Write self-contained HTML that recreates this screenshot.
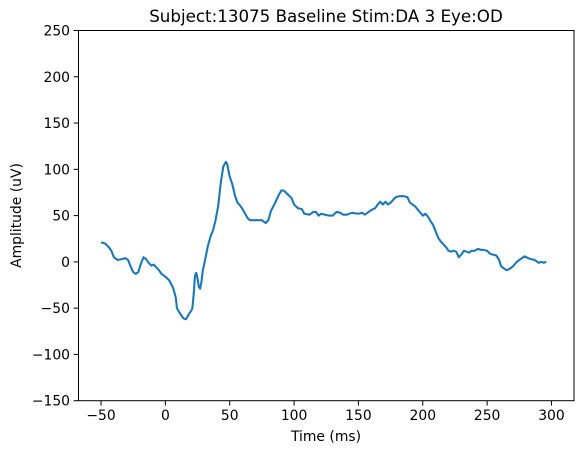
<!DOCTYPE html>
<html><head><meta charset="utf-8"><style>
html,body{margin:0;padding:0;background:#fff;}
svg{display:block;font-family:"DejaVu Sans","Liberation Sans",sans-serif;}
</style></head><body>
<svg id="c" width="583" height="453" viewBox="0 0 583 453" xmlns="http://www.w3.org/2000/svg">
<text x="326" y="22" font-size="16.7" text-anchor="middle">Subject:13075 Baseline Stim:DA 3 Eye:OD</text>
<text x="326" y="441" font-size="13.9" text-anchor="middle">Time (ms)</text>
<text transform="translate(21,215.5) rotate(-90)" font-size="13.9" text-anchor="middle">Amplitude (uV)</text>
<g id="ticks"></g>
<path id="line" fill="none" stroke="#1f77b4" stroke-width="2.1" stroke-linejoin="round"/>
<rect x="78.5" y="30.5" width="495.5" height="370.2" fill="none" stroke="#000" stroke-width="1"/>
</svg>
<script>
const times=[-50,-47,-44,-42,-40,-37,-34,-31,-29,-27,-25,-23,-21,-19,-17,-15,-13,-11,-9,-7,-5,-3,0,3,6,8,9,11,14,16,18,20,21,22,23,24,25,26,27,28,29,31,33,35,37,39,41,43,45,47,48,50,52,54,56,58,60,62,64,66,70,75,78,80,82,85,88,90,92,95,98,100,103,106,108,112,115,117,119,121,124,127,130,133,136,138,141,145,150,153,155,158,160,163,165,167,169,171,173,175,177,179,182,185,188,190,192,194,197,200,202,204,206,208,210,212,214,216,218,220,222,224,226,228,230,232,234,236,238,240,243,245,247,250,252,254,257,259,261,263,265,267,270,273,276,279,282,284,287,290,292,294,296,300];
const amps=[21,20,16,12,5,2,3,4,2,-5,-11,-13,-11,-2,5,3,-1,-4,-3,-6,-9,-13,-16,-20,-28,-38,-50,-55,-61,-62,-57,-53,-50,-35,-15,-12,-18,-27,-29,-22,-10,3,17,27,34,45,60,85,103,108,106,92,84,72,64,61,57,52,47,45,45,45,42,45,55,63,72,77,77,73,69,62,58,57,52,51,54,54,50,52,51,50,50,54,53,51,51,53,52,53,51,54,56,58,62,65,62,65,62,64,67,70,71,71,70,64,62,60,55,50,52,49,44,40,33,26,22,19,16,12,11,12,11,5,8,12,11,10,12,12,14,13,13,12,9,8,7,3,-5,-7,-9,-8,-5,0,3,6,4,3,2,-1,0,-1,0];
const xTicks=[-50,0,50,100,150,200,250,300];
const yTicks=[-150,-100,-50,0,50,100,150,200,250];
const L=78.5,R=574,T=30.5,B=400.7;
const xMin=-67.5,xMax=317.5,yMin=-150,yMax=250;
const sx=v=>L+(v-xMin)/(xMax-xMin)*(R-L);
const sy=v=>B-(v-yMin)/(yMax-yMin)*(B-T);
const NS='http://www.w3.org/2000/svg';
const g=document.getElementById('ticks');
function mk(tag,attrs){const e=document.createElementNS(NS,tag);for(const k in attrs)e.setAttribute(k,attrs[k]);return e;}
xTicks.forEach(t=>{
  const l=mk('line',{x1:sx(t),x2:sx(t),y1:B,y2:B+4.9,stroke:'#000','stroke-width':1});
  
  
  g.appendChild(l);
  const tx=mk('text',{x:sx(t),y:B+19.5,'font-size':13.9,'text-anchor':'middle'});
  
  
  tx.textContent=String(t).replace('-','\u2212');
  g.appendChild(tx);
});
yTicks.forEach(t=>{
  const l=mk('line',{x1:L-4.9,x2:L,y1:sy(t),y2:sy(t),stroke:'#000','stroke-width':1});
  
  
  g.appendChild(l);
  const tx=mk('text',{x:L-8.5,y:sy(t)+5,'font-size':13.9,'text-anchor':'end'});
  
  
  tx.textContent=String(t).replace('-','\u2212');
  g.appendChild(tx);
});
document.getElementById('line').setAttribute('d',times.map((t,i)=>(i?'L':'M')+sx(t).toFixed(2)+','+sy(amps[i]).toFixed(2)).join(''));
</script>
</body></html>
